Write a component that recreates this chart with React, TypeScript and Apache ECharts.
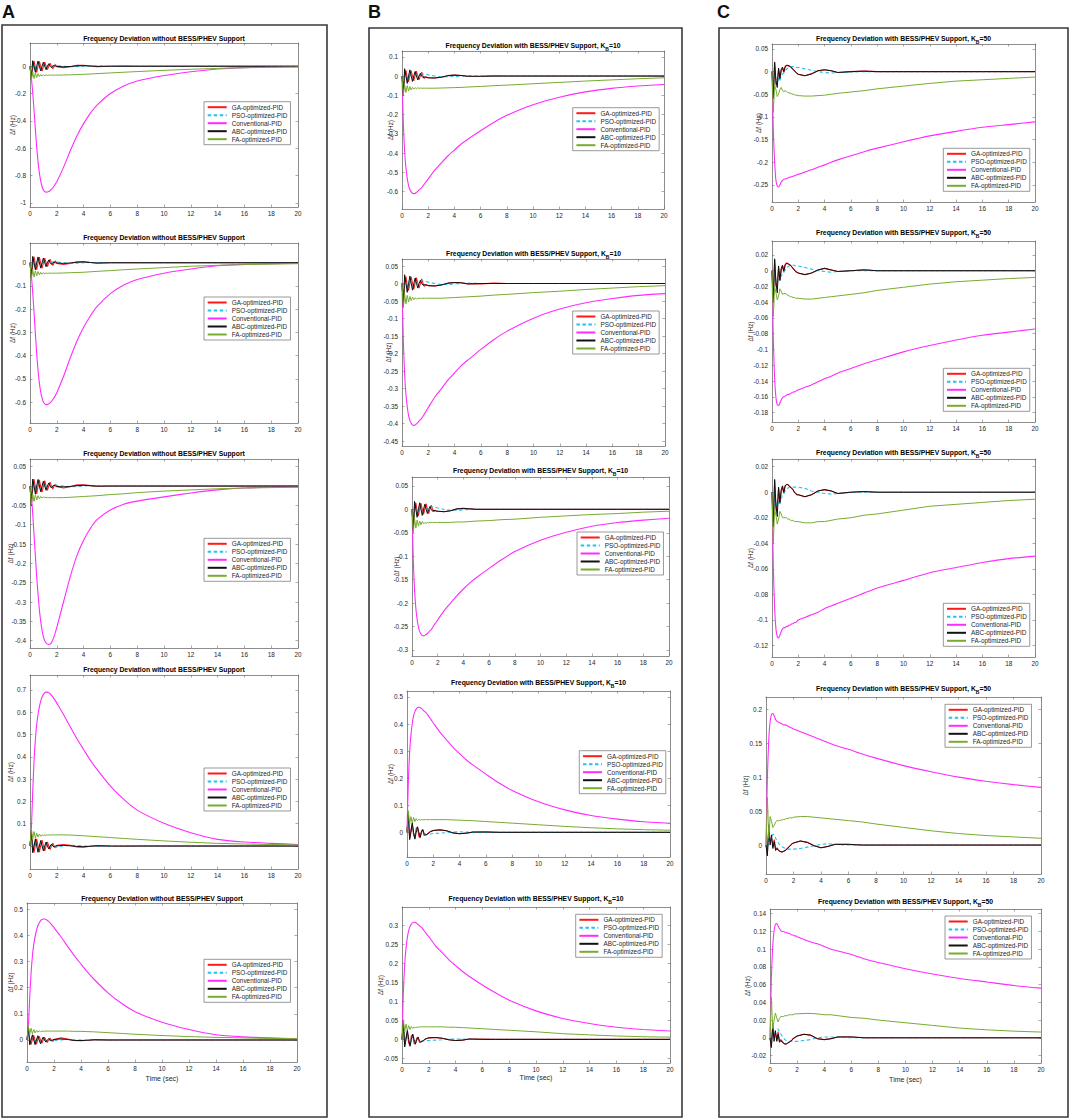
import React, { useEffect, useRef } from "react";
import * as echarts from "echarts";

// time grid (sec)
const T = [0, 0.1, 0.2, 0.3, 0.4, 0.5, 0.6, 0.7, 0.8, 0.9, 1, 1.1, 1.2, 1.3, 1.4, 1.5, 1.6, 1.7, 1.8, 1.9, 2,
  2.5, 3, 3.5, 4, 4.5, 5, 6, 7, 8, 10, 12, 14, 16, 18, 20];

const NAMES = ["GA-optimized-PID", "PSO-optimized-PID", "Conventional-PID", "ABC-optimized-PID", "FA-optimized-PID"];
const X_TICKS = [0, 2, 4, 6, 8, 10, 12, 14, 16, 18, 20];

// ---------- Column A : without BESS/PHEV ----------
const A1_GA = [0,-0.09,-0.02,0.04,-0.01,-0.045,0,0.035,-0.005,-0.035,0,0.03,0,-0.025,0,0.022,0,-0.018,0,0.012,-0.004,
  -0.01,-0.004,0.006,0.007,0.002,-0.003,0,0.001,0,0,0,0,0,0,0];
const A1_PSO = [0,-0.07,0.02,0.01,-0.03,-0.01,0.02,0.005,-0.02,-0.005,0.015,0.005,-0.01,0,0.01,0.005,0,0.004,0.006,0.006,0.005,
  0,-0.004,-0.003,0,0.002,0.001,0,0,0,0,0,0,0,0,0];
const A1_CONV = [0,-0.08,-0.19,-0.32,-0.46,-0.59,-0.7,-0.78,-0.84,-0.88,-0.905,-0.917,-0.921,-0.92,-0.916,-0.909,-0.9,-0.889,-0.876,-0.861,-0.845,
  -0.74,-0.62,-0.51,-0.42,-0.345,-0.285,-0.2,-0.145,-0.108,-0.068,-0.04,-0.02,-0.01,-0.005,-0.003];
const A1_ABC = [0,-0.1,0.04,0,-0.045,0,0.038,0,-0.035,0,0.03,0,-0.025,0,0.018,0,-0.01,0,0.005,0,-0.002,
  -0.004,-0.002,0.003,0.004,0.001,-0.001,0,0,0,0,0,0,0,0,0];
const A1_FA = [0,-0.1,-0.04,-0.09,-0.05,-0.082,-0.055,-0.076,-0.06,-0.072,-0.062,-0.069,-0.063,-0.067,-0.064,-0.066,-0.065,-0.065,-0.065,-0.065,-0.065,
  -0.064,-0.063,-0.061,-0.059,-0.057,-0.054,-0.049,-0.044,-0.039,-0.03,-0.022,-0.016,-0.011,-0.008,-0.006];
const A1_YT = [-1, -0.8, -0.6, -0.4, -0.2, 0];

const A2_GA = [0,-0.06,-0.013,0.027,-0.007,-0.03,0,0.024,-0.003,-0.024,0,0.02,0,-0.017,0,0.015,0,-0.012,0,0.008,-0.003,
  -0.007,-0.003,0.004,0.005,0.001,-0.002,0,0.001,0,0,0,0,0,0,0];
const A2_PSO = [0,-0.046,0.013,0.007,-0.02,-0.007,0.013,0.003,-0.013,-0.003,0.01,0.003,-0.007,0,0.007,0.003,0,0.003,0.004,0.004,0.003,
  0,-0.003,-0.002,0,0.001,0.001,0,0,0,0,0,0,0,0,0];
const A2_CONV = [0,-0.053,-0.126,-0.212,-0.305,-0.391,-0.464,-0.517,-0.557,-0.583,-0.6,-0.608,-0.611,-0.61,-0.607,-0.603,-0.597,-0.589,-0.581,-0.571,-0.56,
  -0.49,-0.41,-0.338,-0.278,-0.229,-0.189,-0.133,-0.096,-0.072,-0.045,-0.027,-0.013,-0.007,-0.004,-0.002];
const A2_ABC = [0,-0.066,0.027,0,-0.03,0,0.025,0,-0.023,0,0.02,0,-0.017,0,0.012,0,-0.007,0,0.003,0,-0.001,
  -0.003,-0.001,0.002,0.003,0.001,-0.001,0,0,0,0,0,0,0,0,0];
const A2_FA = [0,-0.07,-0.028,-0.062,-0.035,-0.056,-0.038,-0.052,-0.041,-0.049,-0.043,-0.047,-0.044,-0.046,-0.045,-0.045,-0.045,-0.045,-0.045,-0.045,-0.045,
  -0.044,-0.043,-0.042,-0.041,-0.039,-0.037,-0.034,-0.03,-0.027,-0.021,-0.015,-0.011,-0.008,-0.006,-0.004];
const A2_YT = [-0.6, -0.5, -0.4, -0.3, -0.2, -0.1, 0];

const A3_GA = [0,-0.045,-0.01,0.018,-0.004,-0.02,0,0.016,-0.002,-0.016,0,0.014,0,-0.011,0,0.01,0,-0.008,0,0.005,-0.002,
  -0.005,-0.002,0.003,0.003,0.001,-0.001,0,0,0,0,0,0,0,0,0];
const A3_PSO = [0,-0.035,0.008,0.004,-0.013,-0.004,0.009,0.002,-0.009,-0.002,0.007,0.002,-0.004,0,0.004,0.002,0,0.002,0.003,0.003,0.002,
  0,-0.002,-0.001,0,0.001,0,0,0,0,0,0,0,0,0,0];
const A3_CONV = [0,-0.025,-0.07,-0.125,-0.18,-0.235,-0.28,-0.32,-0.35,-0.373,-0.39,-0.4,-0.406,-0.409,-0.41,-0.409,-0.405,-0.398,-0.389,-0.378,-0.366,
  -0.3,-0.235,-0.18,-0.14,-0.11,-0.087,-0.062,-0.047,-0.039,-0.028,-0.018,-0.01,-0.005,-0.003,-0.002];
const A3_ABC = [0,-0.05,0.018,0,-0.02,0,0.017,0,-0.015,0,0.013,0,-0.011,0,0.008,0,-0.005,0,0.002,0,-0.001,
  -0.002,-0.001,0.001,0.002,0.001,0,0,0,0,0,0,0,0,0,0];
const A3_FA = [0,-0.048,-0.02,-0.04,-0.022,-0.036,-0.025,-0.033,-0.027,-0.031,-0.028,-0.03,-0.029,-0.03,-0.03,-0.03,-0.03,-0.03,-0.03,-0.03,-0.03,
  -0.03,-0.029,-0.028,-0.027,-0.026,-0.025,-0.022,-0.02,-0.017,-0.013,-0.01,-0.007,-0.005,-0.004,-0.003];
const A3_YT = [-0.4, -0.35, -0.3, -0.25, -0.2, -0.15, -0.1, -0.05, 0, 0.05];

const A4_GA = [0,0.06,0.01,-0.03,0.005,0.032,0,-0.027,0.003,0.026,0,-0.022,0,0.019,0,-0.016,0,0.012,0,-0.008,0.003,
  0.007,0.003,-0.004,-0.005,-0.001,0.002,0,-0.001,0,0,0,0,0,0,0];
const A4_PSO = [0,0.05,-0.015,-0.007,0.022,0.007,-0.015,-0.003,0.015,0.003,-0.011,-0.003,0.008,0,-0.007,-0.003,0,-0.003,-0.005,-0.005,-0.004,
  0,0.003,0.002,0,-0.001,-0.001,0,0,0,0,0,0,0,0,0];
const A4_CONV = [0,0.075,0.24,0.38,0.478,0.545,0.59,0.624,0.65,0.668,0.68,0.687,0.69,0.69,0.687,0.683,0.677,0.669,0.66,0.651,0.641,
  0.59,0.535,0.481,0.433,0.385,0.344,0.269,0.209,0.161,0.102,0.06,0.03,0.018,0.012,0.007];
const A4_ABC = [0,0.07,-0.03,0,0.032,0,-0.028,0,0.025,0,-0.022,0,0.018,0,-0.013,0,0.008,0,-0.004,0,0.001,
  0.003,0.001,-0.002,-0.003,-0.001,0.001,0,0,0,0,0,0,0,0,0];
const A4_FA = [0,0.08,0.03,0.065,0.035,0.058,0.04,0.054,0.044,0.051,0.046,0.05,0.048,0.05,0.049,0.05,0.05,0.05,0.05,0.05,0.05,
  0.05,0.049,0.048,0.046,0.044,0.042,0.038,0.034,0.03,0.023,0.017,0.012,0.009,0.007,0.005];
const A4_YT = [0, 0.1, 0.2, 0.3, 0.4, 0.5, 0.6, 0.7];

const A5_GA = [0,0.045,0.005,-0.018,0.002,0.018,0,-0.016,0.002,0.015,0,-0.013,0,0.011,0,-0.009,0,0.007,0,-0.005,0.002,
  0.008,0.004,-0.002,-0.003,-0.001,0.001,0,0,0,0,0,0,0,0,0];
const A5_PSO = [0,0.035,-0.008,-0.004,0.013,0.004,-0.009,-0.002,0.009,0.002,-0.007,-0.002,0.004,0,-0.004,-0.002,0,-0.002,-0.003,-0.003,-0.002,
  0,0.002,0.001,0,-0.001,0,0,0,0,0,0,0,0,0,0];
const A5_CONV = [0,0.05,0.16,0.255,0.32,0.365,0.395,0.418,0.435,0.447,0.455,0.46,0.462,0.462,0.46,0.457,0.453,0.448,0.442,0.436,0.429,
  0.395,0.358,0.322,0.29,0.258,0.23,0.18,0.14,0.108,0.068,0.04,0.02,0.012,0.008,0.005];
const A5_ABC = [0,0.05,-0.018,0,0.02,0,-0.018,0,0.016,0,-0.014,0,0.011,0,-0.008,0,0.005,0,-0.002,0,0.002,
  0.004,0.002,-0.002,-0.002,-0.001,0.001,0,0,0,0,0,0,0,0,0];
const A5_FA = [0,0.055,0.02,0.045,0.024,0.04,0.027,0.037,0.03,0.035,0.032,0.034,0.033,0.034,0.034,0.034,0.034,0.034,0.034,0.034,0.034,
  0.034,0.034,0.033,0.033,0.032,0.031,0.028,0.025,0.022,0.017,0.013,0.01,0.008,0.006,0.005];
const A5_YT = [0, 0.1, 0.2, 0.3, 0.4, 0.5];

// ---------- Column B : with BESS/PHEV, KB=10 ----------
const B1_GA = [0,-0.08,0,0.03,-0.01,-0.03,0.005,0.028,0,-0.025,0.003,0.026,0,-0.02,0.002,0.02,0,-0.012,-0.004,-0.006,-0.009,
  -0.01,-0.006,0.002,0.005,0.003,-0.001,-0.002,0.001,0,0,0,0,0,0,0];
const B1_PSO = [0,-0.07,0.02,0.005,-0.025,-0.01,0.015,0,-0.015,-0.005,0.008,0.005,0,0.005,0.01,0.011,0.011,0.01,0.009,0.008,0.006,
  0,-0.004,-0.004,-0.002,0,0.001,0,0,0,0,0,0,0,0,0];
const B1_CONV = [0,-0.244,-0.39,-0.476,-0.531,-0.567,-0.589,-0.601,-0.608,-0.61,-0.609,-0.604,-0.598,-0.592,-0.586,-0.58,-0.57,-0.561,-0.552,-0.543,-0.534,
  -0.488,-0.451,-0.415,-0.384,-0.354,-0.329,-0.284,-0.241,-0.204,-0.149,-0.11,-0.082,-0.064,-0.052,-0.044];
const B1_ABC = [0,-0.1,0.038,0,-0.038,0,0.032,0,-0.028,0,0.024,0,-0.02,0,0.014,0,-0.008,-0.004,-0.006,-0.008,-0.009,
  -0.01,-0.006,0.002,0.005,0.003,-0.001,-0.001,0,0,0,0,0,0,0,0];
const B1_FA = [0,-0.1,-0.045,-0.085,-0.05,-0.078,-0.055,-0.072,-0.058,-0.068,-0.06,-0.066,-0.061,-0.064,-0.062,-0.063,-0.063,-0.063,-0.063,-0.063,-0.063,
  -0.063,-0.062,-0.061,-0.06,-0.059,-0.057,-0.054,-0.05,-0.047,-0.04,-0.033,-0.026,-0.02,-0.014,-0.009];
const B1_YT = [-0.6, -0.5, -0.4, -0.3, -0.2, -0.1, 0, 0.1];

const B2_GA = [0,-0.054,0,0.02,-0.007,-0.02,0.003,0.019,0,-0.017,0.002,0.017,0,-0.013,0.001,0.013,0,-0.008,-0.003,-0.004,-0.006,
  -0.007,-0.004,0.001,0.003,0.002,-0.001,-0.001,0.001,0,0,0,0,0,0,0];
const B2_PSO = [0,-0.047,0.013,0.003,-0.017,-0.007,0.01,0,-0.01,-0.003,0.005,0.003,0,0.003,0.007,0.007,0.007,0.007,0.006,0.005,0.004,
  0,-0.003,-0.003,-0.001,0,0.001,0,0,0,0,0,0,0,0,0];
const B2_CONV = [0,-0.162,-0.259,-0.316,-0.352,-0.377,-0.391,-0.399,-0.404,-0.405,-0.404,-0.401,-0.397,-0.393,-0.389,-0.385,-0.379,-0.373,-0.367,-0.36,-0.354,
  -0.324,-0.3,-0.275,-0.255,-0.235,-0.219,-0.188,-0.16,-0.136,-0.099,-0.073,-0.055,-0.043,-0.034,-0.029];
const B2_ABC = [0,-0.067,0.025,0,-0.025,0,0.021,0,-0.019,0,0.016,0,-0.013,0,0.009,0,-0.005,-0.003,-0.004,-0.005,-0.006,
  -0.007,-0.004,0.001,0.003,0.002,-0.001,0,0,0,0,0,0,0,0,0];
const B2_FA = [0,-0.07,-0.03,-0.058,-0.034,-0.053,-0.037,-0.049,-0.039,-0.046,-0.041,-0.044,-0.042,-0.043,-0.042,-0.042,-0.042,-0.042,-0.042,-0.042,-0.042,
  -0.042,-0.042,-0.041,-0.04,-0.039,-0.038,-0.036,-0.033,-0.031,-0.026,-0.022,-0.017,-0.013,-0.009,-0.006];
const B2_YT = [-0.45, -0.4, -0.35, -0.3, -0.25, -0.2, -0.15, -0.1, -0.05, 0, 0.05];

const B3_GA = [0,-0.036,0,0.014,-0.005,-0.014,0.002,0.013,0,-0.011,0.001,0.012,0,-0.009,0.001,0.009,0,-0.005,-0.002,-0.003,-0.004,
  -0.005,-0.003,0.001,0.002,0.001,0,0,0,0,0,0,0,0,0,0];
const B3_PSO = [0,-0.032,0.009,0.002,-0.011,-0.005,0.007,0,-0.007,-0.002,0.004,0.002,0,0.002,0.005,0.005,0.005,0.005,0.004,0.004,0.003,
  0,-0.002,-0.002,-0.001,0,0,0,0,0,0,0,0,0,0,0];
const B3_CONV = [0,-0.108,-0.173,-0.211,-0.235,-0.251,-0.261,-0.266,-0.269,-0.27,-0.269,-0.267,-0.265,-0.262,-0.259,-0.257,-0.252,-0.248,-0.244,-0.24,-0.236,
  -0.216,-0.2,-0.184,-0.17,-0.157,-0.146,-0.126,-0.107,-0.09,-0.066,-0.049,-0.036,-0.028,-0.023,-0.019];
const B3_ABC = [0,-0.045,0.017,0,-0.017,0,0.014,0,-0.013,0,0.011,0,-0.009,0,0.006,0,-0.004,-0.002,-0.003,-0.004,-0.004,
  -0.005,-0.003,0.001,0.002,0.001,0,0,0,0,0,0,0,0,0,0];
const B3_FA = [0,-0.05,-0.02,-0.04,-0.023,-0.036,-0.025,-0.033,-0.026,-0.031,-0.028,-0.03,-0.028,-0.029,-0.028,-0.028,-0.028,-0.028,-0.028,-0.028,-0.028,
  -0.028,-0.028,-0.027,-0.027,-0.026,-0.025,-0.024,-0.022,-0.021,-0.017,-0.014,-0.011,-0.009,-0.006,-0.004];
const B3_YT = [-0.3, -0.25, -0.2, -0.15, -0.1, -0.05, 0, 0.05];

const B4_GA = [0,0.06,-0.02,0.01,0.03,-0.01,-0.02,0.015,0.02,-0.015,-0.02,0.005,0.01,-0.012,-0.01,-0.008,-0.005,0,0.003,0.005,0.007,
  0.009,0.006,-0.002,-0.005,-0.003,0.001,0.002,0,0,0,0,0,0,0,0];
const B4_PSO = [0,0.05,-0.015,0,0.02,0.005,-0.012,0,0.01,0.003,-0.005,-0.002,0,-0.003,-0.006,-0.007,-0.007,-0.007,-0.006,-0.005,-0.004,
  -0.003,-0.001,0.001,0.002,0.001,0,0,0,0,0,0,0,0,0,0];
const B4_CONV = [0,0.185,0.296,0.36,0.402,0.43,0.446,0.455,0.461,0.462,0.461,0.457,0.453,0.448,0.444,0.439,0.432,0.425,0.418,0.411,0.404,
  0.37,0.342,0.314,0.291,0.268,0.249,0.215,0.182,0.155,0.113,0.083,0.062,0.049,0.039,0.033];
const B4_ABC = [0,0.07,-0.027,0,0.035,0,-0.025,0,0.02,0,-0.018,0,0.01,-0.005,-0.01,-0.008,-0.004,0,0.003,0.005,0.007,
  0.009,0.006,-0.002,-0.005,-0.003,0.001,0.001,0,0,0,0,0,0,0,0];
const B4_FA = [0,0.08,0.03,0.058,0.035,0.055,0.04,0.051,0.043,0.048,0.045,0.047,0.046,0.047,0.047,0.047,0.047,0.047,0.047,0.047,0.047,
  0.047,0.047,0.046,0.045,0.044,0.043,0.04,0.037,0.034,0.028,0.022,0.017,0.013,0.01,0.008];
const B4_YT = [0, 0.1, 0.2, 0.3, 0.4, 0.5];

const B5_GA = [0,0.04,-0.015,0.005,0.02,-0.01,-0.015,0.01,0.012,-0.01,-0.013,0.003,0.006,-0.008,-0.007,-0.005,-0.003,0,0.002,0.003,0.004,
  0.005,0.003,-0.001,-0.003,-0.002,0.001,0.001,0,0,0,0,0,0,0,0];
const B5_PSO = [0,0.035,-0.01,0,0.014,0.003,-0.008,0,0.007,0.002,-0.003,-0.001,0,-0.002,-0.004,-0.004,-0.004,-0.004,-0.004,-0.003,-0.003,
  -0.002,-0.001,0.001,0.001,0.001,0,0,0,0,0,0,0,0,0,0];
const B5_CONV = [0,0.123,0.197,0.24,0.268,0.286,0.297,0.303,0.307,0.308,0.307,0.305,0.302,0.299,0.296,0.293,0.288,0.283,0.279,0.274,0.27,
  0.246,0.228,0.209,0.194,0.179,0.166,0.143,0.122,0.103,0.075,0.055,0.042,0.032,0.026,0.022];
const B5_ABC = [0,0.05,-0.02,0,0.025,0,-0.018,0,0.014,0,-0.012,0,0.006,-0.004,-0.007,-0.005,-0.003,0,0.002,0.003,0.004,
  0.005,0.003,-0.001,-0.003,-0.002,0.001,0,0,0,0,0,0,0,0,0];
const B5_FA = [0,0.052,0.02,0.04,0.024,0.036,0.026,0.034,0.029,0.032,0.031,0.032,0.032,0.033,0.033,0.033,0.033,0.033,0.033,0.033,0.033,
  0.033,0.033,0.032,0.032,0.031,0.03,0.028,0.026,0.024,0.02,0.015,0.012,0.009,0.007,0.006];
const B5_YT = [-0.05, 0, 0.05, 0.1, 0.15, 0.2, 0.25, 0.3];

// ---------- Column C : with BESS/PHEV, KB=50 ----------
const C1_GA = [0,-0.05,0.022,-0.03,-0.02,0.005,-0.018,0.002,0.008,-0.002,0.012,0.014,0.013,0.012,0.011,0.008,0.005,0.002,-0.001,-0.004,-0.006,
  -0.009,-0.005,0.002,0.004,0.002,-0.002,0,0.001,0,0,0,0,0,0,0];
const C1_PSO = [0,-0.04,0.005,-0.02,-0.025,-0.015,-0.02,-0.01,-0.005,-0.003,0.002,0.005,0.008,0.01,0.011,0.011,0.011,0.01,0.01,0.009,0.009,
  0.006,0.003,0,-0.002,-0.003,-0.002,-0.001,0,0,0,0,0,0,0,0];
const C1_CONV = [0,-0.13,-0.2,-0.24,-0.253,-0.255,-0.25,-0.244,-0.24,-0.238,-0.237,-0.236,-0.235,-0.234,-0.233,-0.232,-0.231,-0.23,-0.229,-0.228,-0.227,
  -0.222,-0.217,-0.211,-0.206,-0.2,-0.195,-0.186,-0.177,-0.169,-0.155,-0.142,-0.132,-0.123,-0.117,-0.111];
const C1_ABC = [0,-0.06,0.02,-0.02,-0.035,0.008,-0.015,0.005,0.01,0,0.01,0.013,0.014,0.013,0.011,0.008,0.005,0.002,-0.001,-0.004,-0.006,
  -0.009,-0.005,0.002,0.004,0.002,-0.002,0,0.001,0,0,0,0,0,0,0];
const C1_FA = [0,-0.09,-0.03,-0.04,-0.055,-0.05,-0.04,-0.035,-0.042,-0.044,-0.042,-0.044,-0.046,-0.047,-0.048,-0.049,-0.05,-0.051,-0.052,-0.052,-0.053,
  -0.054,-0.054,-0.053,-0.052,-0.05,-0.048,-0.045,-0.042,-0.038,-0.032,-0.026,-0.021,-0.018,-0.015,-0.012];
const C1_YT = [-0.25, -0.2, -0.15, -0.1, -0.05, 0, 0.05];

const C2_GA = [0,-0.035,0.014,-0.02,-0.015,0.004,-0.013,0,0.006,-0.002,0.008,0.01,0.009,0.008,0.007,0.005,0.003,0.001,-0.001,-0.002,-0.003,
  -0.005,-0.003,0.001,0.003,0.001,-0.001,0,0.001,0,0,0,0,0,0,0];
const C2_PSO = [0,-0.03,0.003,-0.013,-0.017,-0.01,-0.013,-0.007,-0.003,-0.002,0.001,0.003,0.005,0.006,0.007,0.007,0.007,0.007,0.006,0.006,0.006,
  0.004,0.002,0,-0.001,-0.002,-0.001,0,0,0,0,0,0,0,0,0];
const C2_CONV = [0,-0.088,-0.137,-0.161,-0.17,-0.171,-0.168,-0.164,-0.161,-0.16,-0.159,-0.158,-0.157,-0.157,-0.156,-0.155,-0.154,-0.154,-0.153,-0.152,-0.151,
  -0.148,-0.145,-0.141,-0.137,-0.134,-0.13,-0.124,-0.118,-0.113,-0.103,-0.095,-0.088,-0.082,-0.078,-0.074];
const C2_ABC = [0,-0.04,0.015,-0.015,-0.028,0.006,-0.012,0.003,0.007,0,0.007,0.009,0.009,0.008,0.007,0.005,0.003,0.001,-0.001,-0.002,-0.003,
  -0.005,-0.003,0.001,0.003,0.001,-0.001,0,0.001,0,0,0,0,0,0,0];
const C2_FA = [0,-0.058,-0.02,-0.028,-0.037,-0.032,-0.023,-0.026,-0.03,-0.029,-0.029,-0.03,-0.031,-0.032,-0.033,-0.033,-0.034,-0.034,-0.035,-0.035,-0.035,
  -0.036,-0.036,-0.035,-0.034,-0.033,-0.032,-0.03,-0.028,-0.025,-0.021,-0.017,-0.014,-0.012,-0.01,-0.0085];
const C2_YT = [-0.18, -0.16, -0.14, -0.12, -0.1, -0.08, -0.06, -0.04, -0.02, 0, 0.02];

const C3_GA = [0,-0.024,0.009,-0.014,-0.01,0.003,-0.009,0,0.004,-0.001,0.005,0.006,0.006,0.005,0.004,0.003,0.002,0,-0.001,-0.002,-0.002,
  -0.0035,-0.002,0.001,0.002,0.001,-0.001,0,0.0005,0,0,0,0,0,0,0];
const C3_PSO = [0,-0.02,0.002,-0.009,-0.011,-0.007,-0.009,-0.005,-0.002,-0.001,0.001,0.002,0.003,0.004,0.004,0.004,0.004,0.004,0.004,0.004,0.004,
  0.003,0.001,0,-0.001,-0.0015,-0.001,0,0,0,0,0,0,0,0,0];
const C3_CONV = [0,-0.059,-0.091,-0.107,-0.113,-0.114,-0.112,-0.109,-0.107,-0.106,-0.106,-0.105,-0.105,-0.104,-0.104,-0.103,-0.103,-0.102,-0.102,-0.101,-0.1,
  -0.098,-0.096,-0.094,-0.091,-0.089,-0.087,-0.083,-0.079,-0.075,-0.069,-0.063,-0.059,-0.055,-0.052,-0.05];
const C3_ABC = [0,-0.027,0.01,-0.01,-0.019,0.004,-0.008,0.002,0.005,0,0.005,0.006,0.006,0.005,0.004,0.003,0.002,0,-0.001,-0.002,-0.002,
  -0.0035,-0.002,0.001,0.002,0.001,-0.001,0,0.0005,0,0,0,0,0,0,0];
const C3_FA = [0,-0.04,-0.013,-0.018,-0.025,-0.021,-0.015,-0.017,-0.02,-0.02,-0.02,-0.02,-0.021,-0.021,-0.022,-0.022,-0.022,-0.023,-0.023,-0.023,-0.023,
  -0.024,-0.024,-0.023,-0.023,-0.022,-0.021,-0.02,-0.018,-0.017,-0.014,-0.011,-0.0095,-0.008,-0.0065,-0.0055];
const C3_YT = [-0.12, -0.1, -0.08, -0.06, -0.04, -0.02, 0, 0.02];

const C4_GA = [0,-0.012,0.022,0.005,0.01,-0.002,0.008,-0.006,-0.004,-0.007,-0.009,-0.01,-0.01,-0.009,-0.008,-0.006,-0.004,-0.002,0,0.002,0.003,
  0.006,0.004,-0.001,-0.004,-0.002,0.001,0.001,0,0,0,0,0,0,0,0];
const C4_PSO = [0,-0.01,0.01,0.005,0.012,0.016,0.015,0.01,0.006,0.003,0,-0.002,-0.003,-0.004,-0.005,-0.005,-0.006,-0.006,-0.006,-0.006,-0.006,
  -0.005,-0.003,-0.001,0.001,0.002,0.001,0,0,0,0,0,0,0,0,0];
const C4_CONV = [0,0.1,0.155,0.182,0.192,0.194,0.19,0.185,0.182,0.181,0.18,0.179,0.178,0.177,0.177,0.176,0.175,0.174,0.173,0.172,0.171,
  0.167,0.163,0.159,0.155,0.151,0.147,0.141,0.134,0.128,0.117,0.108,0.1,0.094,0.089,0.085];
const C4_ABC = [0,-0.016,0.03,0,0.015,-0.005,0.005,-0.008,-0.005,-0.008,-0.009,-0.01,-0.01,-0.009,-0.008,-0.006,-0.004,-0.002,0,0.002,0.003,
  0.006,0.004,-0.001,-0.004,-0.002,0.001,0.001,0,0,0,0,0,0,0,0];
const C4_FA = [0,0.07,0.01,0.042,0.035,0.026,0.029,0.034,0.036,0.036,0.036,0.037,0.037,0.038,0.038,0.039,0.039,0.04,0.04,0.04,0.041,
  0.042,0.042,0.041,0.04,0.039,0.038,0.036,0.034,0.031,0.026,0.021,0.017,0.014,0.012,0.01];
const C4_YT = [0, 0.05, 0.1, 0.15, 0.2];

const C5_GA = [0,-0.009,0.012,0,0.006,-0.002,0.007,-0.004,-0.002,-0.004,-0.006,-0.007,-0.007,-0.006,-0.005,-0.004,-0.003,-0.001,0,0.001,0.002,
  0.004,0.003,-0.001,-0.002,-0.001,0.001,0.001,0,0,0,0,0,0,0,0];
const C5_PSO = [0,-0.007,0.007,0.003,0.008,0.01,0.01,0.007,0.004,0.002,0,-0.002,-0.003,-0.003,-0.004,-0.004,-0.004,-0.004,-0.004,-0.004,-0.004,
  -0.003,-0.002,0,0.001,0.001,0.001,0,0,0,0,0,0,0,0,0];
const C5_CONV = [0,0.067,0.103,0.121,0.128,0.129,0.126,0.123,0.121,0.12,0.12,0.119,0.119,0.118,0.118,0.117,0.116,0.116,0.115,0.115,0.114,
  0.111,0.108,0.106,0.103,0.1,0.098,0.094,0.089,0.085,0.078,0.072,0.067,0.063,0.059,0.056];
const C5_ABC = [0,-0.011,0.015,-0.004,0.008,-0.004,0.004,-0.005,-0.003,-0.005,-0.006,-0.007,-0.007,-0.006,-0.005,-0.004,-0.003,-0.001,0,0.001,0.002,
  0.004,0.003,-0.001,-0.002,-0.001,0.001,0.001,0,0,0,0,0,0,0,0];
const C5_FA = [0,0.046,0.01,0.02,0.028,0.022,0.018,0.022,0.024,0.024,0.024,0.025,0.025,0.025,0.026,0.026,0.026,0.026,0.027,0.027,0.027,
  0.0275,0.0275,0.027,0.026,0.026,0.025,0.023,0.022,0.02,0.017,0.014,0.011,0.009,0.0075,0.0065];
const C5_YT = [-0.02, 0, 0.02, 0.04, 0.06, 0.08, 0.1, 0.12, 0.14];

// ---------- layout (pixels) ----------
const FF = "'Liberation Sans', Arial, Helvetica, sans-serif";
const FS = 6.4;
const TXT = "#262626";
const AX = "#707070";
const COLORS = ["#ff1a1a", "#22c3ee", "#ff2bff", "#111111", "#77ac30"];
const WIDTHS = [1.1, 1.1, 1.1, 1.0, 1.0];

type Panel = {
  box: number[]; y: number[]; ticks: number[]; leg: number[]; ty: number; lx: number;
  kb: string; s: number[][]; time?: number;
};

const PANELS: Panel[] = [
  { box: [30, 43, 298, 207], y: [-1.03, 0.17], ticks: A1_YT, leg: [204, 101.7], ty: 39, lx: 12, kb: "", s: [A1_GA, A1_PSO, A1_CONV, A1_ABC, A1_FA] },
  { box: [30, 243, 298, 423], y: [-0.69, 0.085], ticks: A2_YT, leg: [204, 297], ty: 238, lx: 12, kb: "", s: [A2_GA, A2_PSO, A2_CONV, A2_ABC, A2_FA] },
  { box: [30, 459, 298, 648], y: [-0.419, 0.07], ticks: A3_YT, leg: [204, 538.3], ty: 454, lx: 10, kb: "", s: [A3_GA, A3_PSO, A3_CONV, A3_ABC, A3_FA] },
  { box: [30, 675, 298, 869], y: [-0.103, 0.767], ticks: A4_YT, leg: [204, 768], ty: 670, lx: 10, kb: "", s: [A4_GA, A4_PSO, A4_CONV, A4_ABC, A4_FA] },
  { box: [27, 903, 297, 1062], y: [-0.084, 0.523], ticks: A5_YT, leg: [204, 959.3], ty: 899, lx: 10, kb: "", s: [A5_GA, A5_PSO, A5_CONV, A5_ABC, A5_FA], time: 1078 },

  { box: [402, 51, 664, 209], y: [-0.69, 0.13], ticks: B1_YT, leg: [572.7, 107.7], ty: 46, lx: 390, kb: "10", s: [B1_GA, B1_PSO, B1_CONV, B1_ABC, B1_FA] },
  { box: [402, 259, 665, 446], y: [-0.464, 0.07], ticks: B2_YT, leg: [572.7, 311], ty: 254, lx: 388, kb: "10", s: [B2_GA, B2_PSO, B2_CONV, B2_ABC, B2_FA] },
  { box: [412, 477, 669, 656], y: [-0.313, 0.069], ticks: B3_YT, leg: [577, 532], ty: 471, lx: 396, kb: "10", s: [B3_GA, B3_PSO, B3_CONV, B3_ABC, B3_FA] },
  { box: [407, 691, 670, 857], y: [-0.091, 0.522], ticks: B4_YT, leg: [579.3, 750.7], ty: 683, lx: 390, kb: "10", s: [B4_GA, B4_PSO, B4_CONV, B4_ABC, B4_FA] },
  { box: [402, 907, 670, 1063], y: [-0.062, 0.348], ticks: B5_YT, leg: [575.7, 914.3], ty: 899, lx: 380, kb: "10", s: [B5_GA, B5_PSO, B5_CONV, B5_ABC, B5_FA], time: 1077 },

  { box: [772, 44, 1035, 202], y: [-0.288, 0.061], ticks: C1_YT, leg: [943.3, 148.3], ty: 39, lx: 758, kb: "50", s: [C1_GA, C1_PSO, C1_CONV, C1_ABC, C1_FA] },
  { box: [772, 241, 1035, 422], y: [-0.192, 0.0377], ticks: C2_YT, leg: [943.3, 368.3], ty: 233, lx: 750, kb: "50", s: [C2_GA, C2_PSO, C2_CONV, C2_ABC, C2_FA] },
  { box: [772, 459, 1035, 657], y: [-0.129, 0.026], ticks: C3_YT, leg: [943.3, 603.3], ty: 453, lx: 750, kb: "50", s: [C3_GA, C3_PSO, C3_CONV, C3_ABC, C3_FA] },
  { box: [766, 697, 1041, 874], y: [-0.0426, 0.218], ticks: C4_YT, leg: [945, 704.3], ty: 689, lx: 745, kb: "50", s: [C4_GA, C4_PSO, C4_CONV, C4_ABC, C4_FA] },
  { box: [770, 909, 1041, 1063], y: [-0.0284, 0.1453], ticks: C5_YT, leg: [945, 916], ty: 902, lx: 747, kb: "50", s: [C5_GA, C5_PSO, C5_CONV, C5_ABC, C5_FA], time: 1079 },
];

const FRAMES = [
  { x: 2, y: 25, w: 325, h: 1092, letter: "A", lx: 2 },
  { x: 369, y: 28, w: 313, h: 1089, letter: "B", lx: 368 },
  { x: 719, y: 28, w: 349, h: 1089, letter: "C", lx: 717 },
];

const fmt = (v: number) => {
  const r = Math.round(v * 10000) / 10000;
  return r === 0 ? "0" : String(r);
};

function buildOption() {
  const grid: any[] = [];
  const xAxis: any[] = [];
  const yAxis: any[] = [];
  const series: any[] = [];
  const legend: any[] = [];
  const graphic: any[] = [];

  const axisLine = { show: true, onZero: false, lineStyle: { color: AX, width: 0.8 } };
  const tickBase = { show: true, inside: true, length: 2.5, lineStyle: { color: AX, width: 0.6 } };
  const labelBase = { fontSize: FS, color: TXT, fontFamily: FF, formatter: fmt };

  PANELS.forEach((p, i) => {
    const [l, t, r, b] = p.box;
    grid.push({ left: l, top: t, width: r - l, height: b - t, containLabel: false, show: false });
    xAxis.push({
      type: "value", gridIndex: i, position: "bottom", min: 0, max: 20, interval: 2,
      axisLine, splitLine: { show: false },
      axisTick: { ...tickBase, customValues: X_TICKS },
      axisLabel: { ...labelBase, margin: 3, customValues: X_TICKS },
    });
    xAxis.push({
      type: "value", gridIndex: i, position: "top", min: 0, max: 20, interval: 2,
      axisLine, splitLine: { show: false },
      axisTick: { ...tickBase, customValues: X_TICKS }, axisLabel: { show: false },
    });
    yAxis.push({
      type: "value", gridIndex: i, position: "left", min: p.y[0], max: p.y[1],
      axisLine, splitLine: { show: false },
      axisTick: { ...tickBase, customValues: p.ticks },
      axisLabel: { ...labelBase, margin: 4, customValues: p.ticks },
    });
    yAxis.push({
      type: "value", gridIndex: i, position: "right", min: p.y[0], max: p.y[1],
      axisLine, splitLine: { show: false },
      axisTick: { ...tickBase, customValues: p.ticks }, axisLabel: { show: false },
    });

    p.s.forEach((arr, k) => {
      series.push({
        type: "line", name: NAMES[k], xAxisIndex: 2 * i, yAxisIndex: 2 * i,
        data: T.map((tv, j) => [tv, arr[j]]),
        symbol: "none", showSymbol: false, silent: true, clip: true,
        smooth: k === 2 ? 0.2 : false,
        color: COLORS[k],
        lineStyle: { color: COLORS[k], width: WIDTHS[k], type: k === 1 ? [3.5, 2.5] : "solid" },
      });
    });

    legend.push({
      left: p.leg[0], top: p.leg[1], orient: "vertical", data: NAMES,
      itemWidth: 19, itemHeight: 7, itemGap: 2, padding: [2.5, 3, 2.5, 2.7],
      borderColor: "#555", borderWidth: 0.6, backgroundColor: "#ffffff",
      selectedMode: false, z: 10,
      itemStyle: { opacity: 0 },
      textStyle: { fontSize: FS, color: TXT, fontFamily: FF },
    });

    const titleText = p.kb
      ? `{m|Frequency Deviation with BESS/PHEV Support, K}{s|B}{m|=${p.kb}}`
      : `{m|Frequency Deviation without BESS/PHEV Support}`;
    graphic.push({
      type: "text", x: (l + r) / 2, y: p.ty, z: 20,
      style: {
        text: titleText, align: "center", verticalAlign: "middle",
        rich: {
          m: { fontSize: 6.8, fontWeight: "bold", fontFamily: FF, fill: "#000", lineHeight: 9, verticalAlign: "top" },
          s: { fontSize: 5, fontWeight: "bold", fontFamily: FF, fill: "#000", lineHeight: 5, padding: [5, 0, 0, 0], verticalAlign: "top" },
        },
      },
    });
    graphic.push({
      type: "text", x: p.lx, y: (t + b) / 2, rotation: Math.PI / 2, z: 20,
      style: { text: "Δf (Hz)", fontSize: FS, fontFamily: FF, fill: TXT, align: "center", verticalAlign: "middle" },
    });
    if (p.time) {
      graphic.push({
        type: "text", x: (l + r) / 2, y: p.time, z: 20,
        style: { text: "Time (sec)", fontSize: 7, fontFamily: FF, fill: TXT, align: "center", verticalAlign: "middle" },
      });
    }
  });

  FRAMES.forEach((f) => {
    graphic.push({
      type: "rect", shape: { x: f.x, y: f.y, width: f.w, height: f.h }, z: 1, silent: true,
      style: { fill: "none", stroke: "#3a3a3a", lineWidth: 1.6 },
    });
    graphic.push({
      type: "text", x: f.lx, y: 12, z: 20,
      style: { text: f.letter, fontSize: 18, fontWeight: "bold", fontFamily: FF, fill: "#111", align: "left", verticalAlign: "middle" },
    });
  });

  return {
    animation: false,
    backgroundColor: "#ffffff",
    grid, xAxis, yAxis, series, legend, graphic,
  };
}

export default function App() {
  const ref = useRef<HTMLDivElement>(null);
  useEffect(() => {
    if (!ref.current) return;
    const chart = echarts.init(ref.current, null, { renderer: "svg", width: 1072, height: 1119 });
    chart.setOption(buildOption() as any);
    return () => chart.dispose();
  }, []);
  return (
    <div
      ref={ref}
      style={{ position: "absolute", left: 0, top: 0, width: 1072, height: 1119, background: "#fff" }}
    />
  );
}
